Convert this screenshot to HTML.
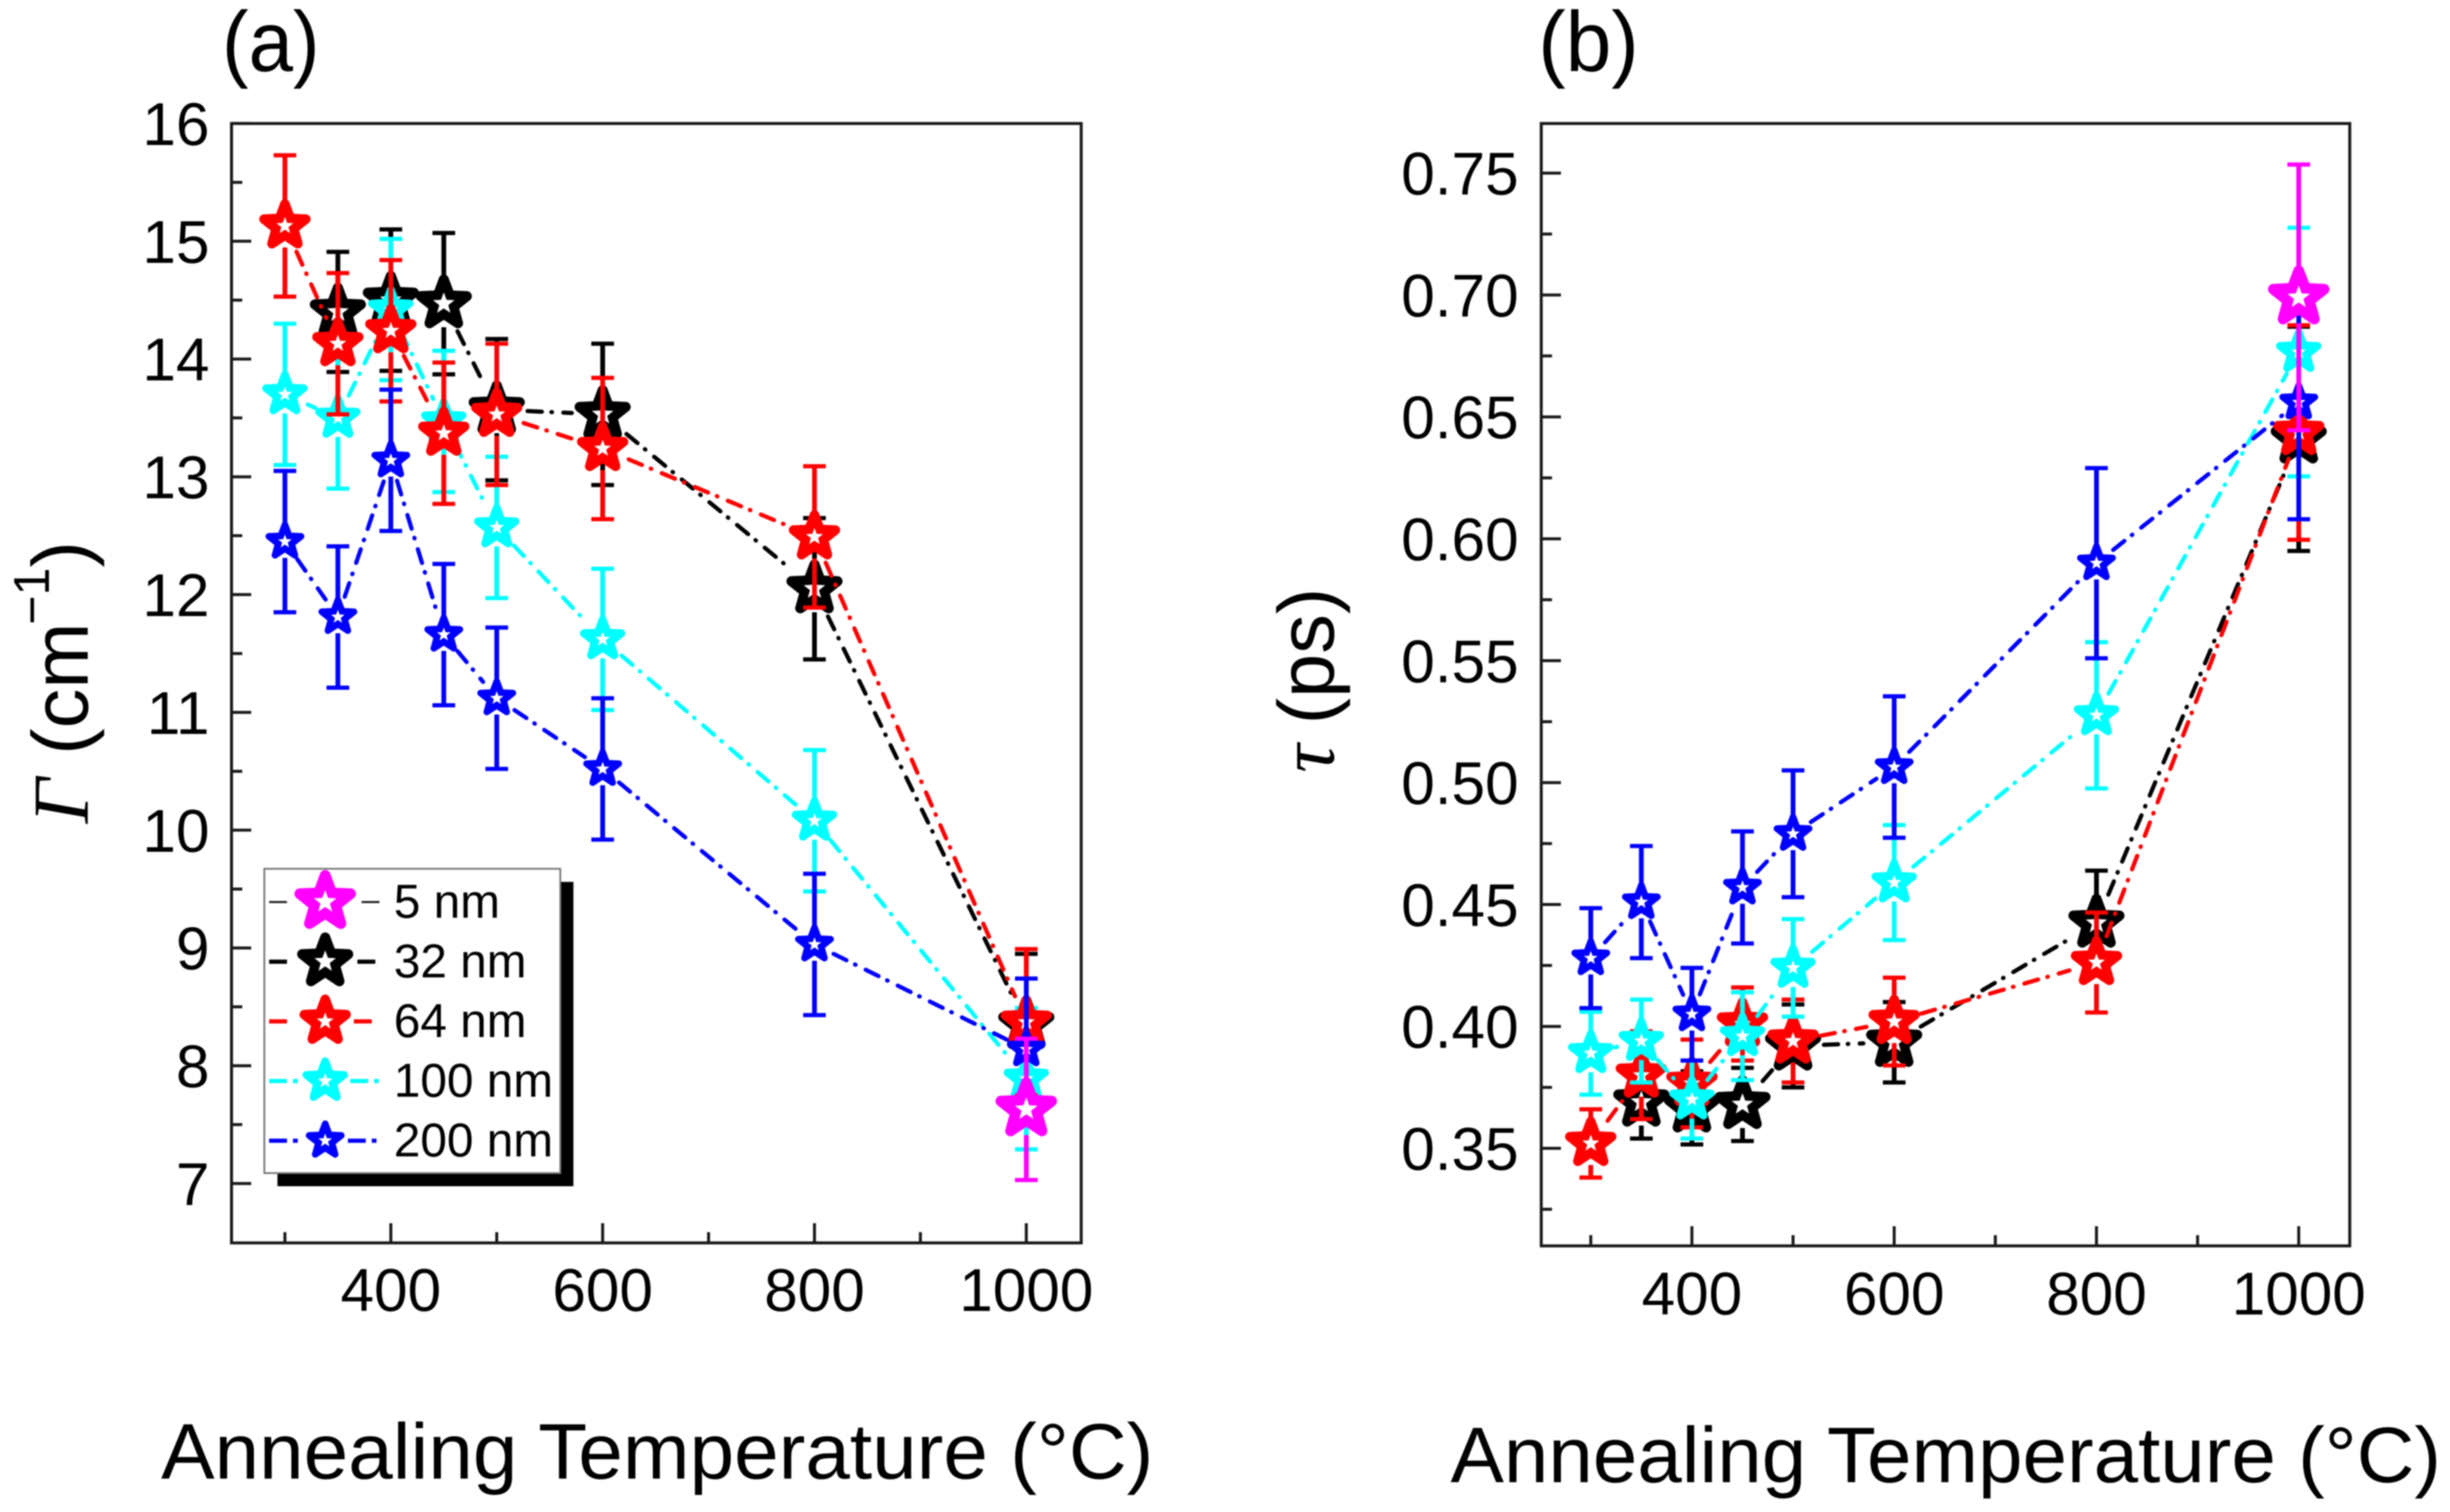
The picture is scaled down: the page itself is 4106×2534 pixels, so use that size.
<!DOCTYPE html>
<html lang="en">
<head>
<meta charset="utf-8">
<title>Annealing temperature dependence of linewidth and lifetime</title>
<style>
html,body{margin:0;padding:0;background:#fff;width:4106px;height:2534px;overflow:hidden}
svg{display:block;filter:blur(1px)}
text{font-family:"Liberation Sans",Arial,sans-serif;fill:#000}
.serif{font-family:"Liberation Serif","DejaVu Serif",serif;font-style:italic}
</style>
</head>
<body>
<svg id="figure" xmlns="http://www.w3.org/2000/svg" width="4106" height="2534" viewBox="0 0 4106 2534">
  <rect x="0" y="0" width="4106" height="2534" fill="#fff"/>
  <text transform="translate(372,119) scale(1.03,1.1)" font-size="130">(a)</text>
  <text transform="translate(2578,119) scale(1.06,1.1)" font-size="130">(b)</text>

  <text class="serif" transform="translate(147,1380) rotate(-90)" font-size="133">&#915;</text>
  <text transform="translate(147,1265) rotate(-90)" font-size="133">(cm</text>
  <text transform="translate(82,1047) rotate(-90)" font-size="84">&#8722;1</text>
  <text transform="translate(147,951) rotate(-90)" font-size="133">)</text>

  <text class="serif" transform="translate(2235,1295) rotate(-90)" font-size="133">&#964;</text>
  <text transform="translate(2235,1214) rotate(-90)" font-size="133">(ps)</text>

  <text x="270" y="2478" font-size="132" textLength="1663" lengthAdjust="spacingAndGlyphs">Annealing Temperature (°C)</text>
  <text x="2431" y="2484" font-size="132" textLength="1660" lengthAdjust="spacingAndGlyphs">Annealing Temperature (°C)</text>

  <g id="panel-a"></g>
  <g id="panel-b"></g>
  <g id="legend"></g>
</svg>
<script>
const temperatures = [300, 350, 400, 450, 500, 600, 800, 1000];
const xMajorTicks = [400, 600, 800, 1000];
const xMinorTicks = [300, 500, 700, 900];

const gammaTicks = [7, 8, 9, 10, 11, 12, 13, 14, 15, 16];
const gammaMinorTicks = [7.5, 8.5, 9.5, 10.5, 11.5, 12.5, 13.5, 14.5, 15.5];
const gammaTickLabels = ['7', '8', '9', '10', '11', '12', '13', '14', '15', '16'];

const tauTicks = [0.35, 0.40, 0.45, 0.50, 0.55, 0.60, 0.65, 0.70, 0.75];
const tauMinorTicks = [0.325, 0.375, 0.425, 0.475, 0.525, 0.575, 0.625, 0.675, 0.725];
const tauTickLabels = ['0.35', '0.40', '0.45', '0.50', '0.55', '0.60', '0.65', '0.70', '0.75'];

const gamma5nm = [null, null, null, null, null, null, null, 7.63];
const gamma32nm = [null, 14.40, 14.50, 14.47, 13.57, 13.53, 12.05, 8.35];
const gamma64nm = [15.13, 14.13, 14.24, 13.37, 13.53, 13.24, 12.49, 8.37];
const gamma100nm = [13.70, 13.50, 14.42, 13.47, 12.57, 11.62, 10.08, 7.89];
const gamma200nm = [12.45, 11.81, 13.14, 11.66, 11.12, 10.52, 9.03, 8.14];

const gammaErr5nm = [null, null, null, null, null, null, null, 0.60];
const gammaErr32nm = [null, 0.51, 0.60, 0.60, 0.60, 0.60, 0.60, 0.60];
const gammaErr64nm = [0.60, 0.60, 0.60, 0.60, 0.60, 0.60, 0.60, 0.62];
const gammaErr100nm = [0.60, 0.60, 0.60, 0.60, 0.60, 0.60, 0.60, 0.60];
const gammaErr200nm = [0.60, 0.60, 0.60, 0.60, 0.60, 0.60, 0.60, 0.60];

const tau5nm = [null, null, null, null, null, null, null, 0.699];
const tau32nm = [null, 0.369, 0.3666, 0.368, 0.392, 0.3935, 0.4424, 0.641];
const tau64nm = [0.352, 0.380, 0.3766, 0.401, 0.394, 0.402, 0.4262, 0.6436];
const tau100nm = [0.389, 0.394, 0.370, 0.396, 0.424, 0.459, 0.5276, 0.6766];
const tau200nm = [0.428, 0.451, 0.405, 0.457, 0.479, 0.5064, 0.590, 0.656];

const tauErr5nm = [null, null, null, null, null, null, null, 0.0545];
const tauErr32nm = [null, 0.015, 0.015, 0.015, 0.017, 0.0165, 0.0215, 0.046];
const tauErr64nm = [0.014, 0.018, 0.018, 0.015, 0.017, 0.018, 0.0205, 0.044];
const tauErr100nm = [0.017, 0.017, 0.016, 0.018, 0.020, 0.0236, 0.030, 0.051];
const tauErr200nm = [0.0205, 0.023, 0.019, 0.023, 0.026, 0.029, 0.039, 0.048];

const legendLabels = ['5 nm', '32 nm', '64 nm', '100 nm', '200 nm'];

const SVGNS = 'http://www.w3.org/2000/svg';
const DASH = '24 16 1 19';
const styles = {
  '5nm':   {color: '#ff00ff', width: 103, stroke: 18, hole: 20, line: 3, dash: '30 400', legendColor: '#222222', legendWidth: 3.5, legendDash: '30 400', legendRight: 606, legendLeftEnd: 483},
  '32nm':  {color: '#000000', width: 94,  stroke: 17, hole: 19, line: 7, dash: DASH, legendColor: '#000000', legendWidth: 7, legendDash: '30 400', legendRight: 599, legendLeftEnd: 483},
  '64nm':  {color: '#ff0000', width: 86,  stroke: 16, hole: 15, line: 7, dash: DASH, legendColor: '#ff0000', legendWidth: 7, legendDash: '30 400', legendRight: 593, legendLeftEnd: 483},
  '100nm': {color: '#00ffff', width: 76,  stroke: 13, hole: 13, line: 7, dash: DASH, legendColor: '#00ffff', legendWidth: 7, legendDash: '30 10 8 100', legendRight: 587, legendLeftEnd: 500},
  '200nm': {color: '#0000ff', width: 65,  stroke: 11, hole: 12, line: 7, dash: DASH, legendColor: '#0000ff', legendWidth: 7, legendDash: '30 10 8 100', legendRight: 583, legendLeftEnd: 500}
};

function make(tag, attrs, parent) {
  const el = document.createElementNS(SVGNS, tag);
  for (const k in attrs) el.setAttribute(k, attrs[k]);
  parent.appendChild(el);
  return el;
}

function starPoints(cx, cy, R) {
  const pts = [];
  for (let i = 0; i < 10; i++) {
    const r = i % 2 === 0 ? R : R * 0.42;
    const a = -Math.PI / 2 + i * Math.PI / 5;
    pts.push((cx + r * Math.cos(a)).toFixed(2) + ',' + (cy + r * Math.sin(a)).toFixed(2));
  }
  return pts.join(' ');
}

function drawStar(parent, cx, cy, st, name) {
  const R = (st.width - st.stroke) / 1.902;
  const outer = make('polygon', {points: starPoints(cx, cy, R), fill: st.color, stroke: st.color, 'stroke-width': st.stroke, 'stroke-linejoin': 'round'}, parent);
  
  
  const inner = make('polygon', {points: starPoints(cx, cy, st.hole), fill: '#ffffff'}, parent);
  
  
}

function drawAxes(parent, box, xScale, yScale, yTicks, yMinor, yLabels, xLabelBase, yLabelRight) {
  const frame = make('rect', {x: box.left, y: box.top, width: box.right - box.left, height: box.bottom - box.top, fill: 'none', stroke: '#1a1a1a', 'stroke-width': 5}, parent);
  
  

  xMajorTicks.forEach(function (t) {
    const tick = make('line', {x1: xScale(t), x2: xScale(t), y1: box.bottom, y2: box.bottom - 33, stroke: '#1a1a1a', 'stroke-width': 5}, parent);
    
    
    const label = make('text', {x: xScale(t), y: xLabelBase, 'font-size': 101, 'text-anchor': 'middle'}, parent);
    
    
    label.textContent = String(t);
  });
  xMinorTicks.forEach(function (t) {
    const tick = make('line', {x1: xScale(t), x2: xScale(t), y1: box.bottom, y2: box.bottom - 18, stroke: '#1a1a1a', 'stroke-width': 5}, parent);
    
    
  });
  yTicks.forEach(function (v, i) {
    const tick = make('line', {x1: box.left, x2: box.left + 33, y1: yScale(v), y2: yScale(v), stroke: '#1a1a1a', 'stroke-width': 5}, parent);
    
    
    const label = make('text', {x: yLabelRight, y: yScale(v) + 36, 'font-size': 101, 'text-anchor': 'end'}, parent);
    
    
    label.textContent = yLabels[i];
  });
  yMinor.forEach(function (v) {
    const tick = make('line', {x1: box.left, x2: box.left + 18, y1: yScale(v), y2: yScale(v), stroke: '#1a1a1a', 'stroke-width': 5}, parent);
    
    
  });
}

function drawSeries(parent, key, values, errors, xScale, yScale) {
  const st = styles[key];
  const group = make('g', {}, parent);
  
  
  const half = st.width / 2;
  const lineGap = half * 1.1;
  const errGap = half * 0.84;
  const pts = [];
  temperatures.forEach(function (t, i) {
    if (values[i] !== null) pts.push({x: xScale(t), y: yScale(values[i]), top: yScale(values[i] + errors[i]), bottom: yScale(values[i] - errors[i])});
  });
  for (let i = 0; i + 1 < pts.length; i++) {
    const a = pts[i], b = pts[i + 1];
    const d = Math.hypot(b.x - a.x, b.y - a.y);
    if (d <= lineGap * 2) continue;
    const ux = (b.x - a.x) / d, uy = (b.y - a.y) / d;
    const seg = make('line', {x1: a.x + ux * lineGap, y1: a.y + uy * lineGap, x2: b.x - ux * lineGap, y2: b.y - uy * lineGap, stroke: st.color, 'stroke-width': st.line, 'stroke-dasharray': st.dash, 'stroke-linecap': 'round'}, group);
    
    
  }
  pts.forEach(function (p) {
    const upper = make('line', {x1: p.x, x2: p.x, y1: p.y - errGap, y2: p.top, stroke: st.color, 'stroke-width': 8}, group);
    
    
    const lower = make('line', {x1: p.x, x2: p.x, y1: p.y + errGap, y2: p.bottom, stroke: st.color, 'stroke-width': 8}, group);
    
    
    const capTop = make('line', {x1: p.x - 19, x2: p.x + 19, y1: p.top, y2: p.top, stroke: st.color, 'stroke-width': 7}, group);
    
    
    const capBottom = make('line', {x1: p.x - 19, x2: p.x + 19, y1: p.bottom, y2: p.bottom, stroke: st.color, 'stroke-width': 7}, group);
    
    
  });
  pts.forEach(function (p) {
    drawStar(group, p.x, p.y, st, 'point-' + key);
  });
}

function xA(t) { return 655 + (t - 400) * 1.775; }
function yA(v) { return 1983.5 - (v - 7) * 197.4; }
function xB(t) { return 2835.5 + (t - 400) * 1.695; }
function yB(v) { return 1924.5 - (v - 0.35) * 4086; }

const panelA = document.getElementById('panel-a');
const panelB = document.getElementById('panel-b');

drawAxes(panelA, {left: 388, right: 1812, top: 207, bottom: 2083}, xA, yA, gammaTicks, gammaMinorTicks, gammaTickLabels, 2197, 351);
drawAxes(panelB, {left: 2583, right: 3938, top: 207, bottom: 2088}, xB, yB, tauTicks, tauMinorTicks, tauTickLabels, 2203, 2545);

drawSeries(panelA, '32nm', gamma32nm, gammaErr32nm, xA, yA);
drawSeries(panelA, '100nm', gamma100nm, gammaErr100nm, xA, yA);
drawSeries(panelA, '64nm', gamma64nm, gammaErr64nm, xA, yA);
drawSeries(panelA, '200nm', gamma200nm, gammaErr200nm, xA, yA);
drawSeries(panelA, '5nm', gamma5nm, gammaErr5nm, xA, yA);

drawSeries(panelB, '32nm', tau32nm, tauErr32nm, xB, yB);
drawSeries(panelB, '64nm', tau64nm, tauErr64nm, xB, yB);
drawSeries(panelB, '100nm', tau100nm, tauErr100nm, xB, yB);
drawSeries(panelB, '200nm', tau200nm, tauErr200nm, xB, yB);
drawSeries(panelB, '5nm', tau5nm, tauErr5nm, xB, yB);

const legend = document.getElementById('legend');
const shadow = make('rect', {x: 465, y: 1478, width: 496, height: 510, fill: '#000'}, legend);


const legendBox = make('rect', {x: 443, y: 1456, width: 496, height: 510, fill: '#fff', stroke: '#777', 'stroke-width': 3}, legend);



['5nm', '32nm', '64nm', '100nm', '200nm'].forEach(function (key, i) {
  const st = styles[key];
  const rowY = 1511.7 + i * 100;
  const row = make('g', {}, legend);
  
  
  const left = make('line', {x1: 451, x2: st.legendLeftEnd, y1: rowY, y2: rowY, stroke: st.legendColor, 'stroke-width': st.legendWidth, 'stroke-dasharray': st.legendDash}, row);
  
  
  const right = make('line', {x1: st.legendRight, x2: 640, y1: rowY, y2: rowY, stroke: st.legendColor, 'stroke-width': st.legendWidth, 'stroke-dasharray': st.legendDash}, row);
  
  
  drawStar(row, 545, rowY, st, 'legend-star');
  const label = make('text', {x: 660, y: rowY + 26.5, 'font-size': 80}, row);
  
  
  label.textContent = legendLabels[i];
});
</script>
</body>
</html>
